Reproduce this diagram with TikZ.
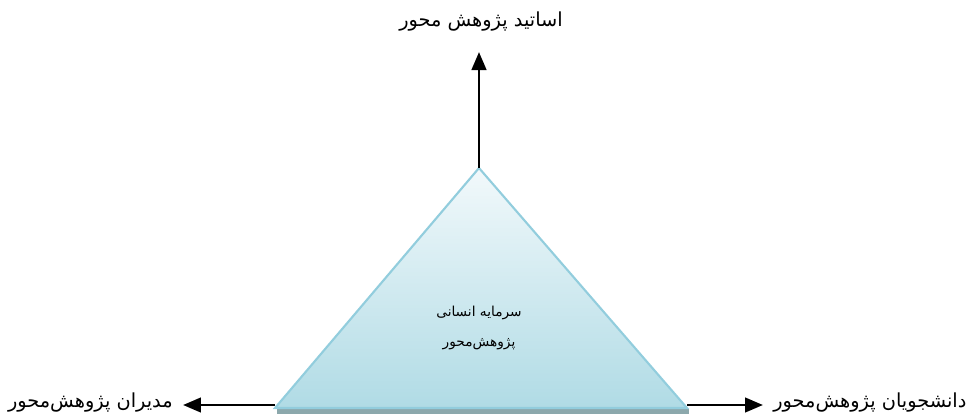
\documentclass[tikz,border=0pt]{standalone}
\usepackage{fontspec}
\usepackage{tikz}
\usetikzlibrary{arrows.meta,positioning}
\TeXXeTstate=1
\newfontfamily\arabicfont[Script=Arabic]{DejaVu Sans}
\definecolor{triline}{RGB}{146,205,221}
\definecolor{tritop}{RGB}{242,249,251}
\definecolor{tribottom}{RGB}{176,219,229}
\definecolor{triedge}{RGB}{140,168,172}
\tikzset{
  roleline/.style={
    -{Triangle[length=3.6mm,width=2.9mm]},
    line width=1.6pt,
    draw=black
  },
  rolelabel/.style={
    inner sep=0pt,
    font=\arabicfont\fontsize{11}{14}\selectfont
  },
  corelabel/.style={
    inner sep=0pt,
    align=center,
    font=\arabicfont\fontsize{7.8}{17}\selectfont
  }
}

\begin{document}
\begin{tikzpicture}[x=0.02cm,y=-0.02cm]
\useasboundingbox (0,0) rectangle (971,413);
% triangle
\coordinate (apex) at (479,168);
\coordinate (baseleft) at (275,408);
\coordinate (baseright) at (687,408);
\fill[triedge] (277,409) rectangle (689,416);
\shadedraw[top color=tritop, bottom color=tribottom, draw=triline, line width=1.2pt]
  (apex) -- (baseright) -- (baseleft) -- cycle;
\node[corelabel] (core) at (479,328) {\beginR سرمایه انسانی\endR\\\beginR پژوهش‌محور\endR};

% labels
\node[rolelabel] (teachers) at (481,22) {\beginR اساتید پژوهش محور\endR};
\node[rolelabel, anchor=east] (managers) at (173,403) {\beginR مدیران پژوهش‌محور\endR};
\node[rolelabel, anchor=west] (students) at (773,403) {\beginR دانشجویان پژوهش‌محور\endR};
\coordinate (toptip) at (479,52);
\coordinate (lefttip) at (183,405);
\coordinate (righttip) at (763,405);

\draw[roleline] (apex) -- (toptip);
\draw[roleline] (baseleft |- lefttip) -- (lefttip);
\draw[roleline] (baseright |- righttip) -- (righttip);
\end{tikzpicture}
\end{document}
